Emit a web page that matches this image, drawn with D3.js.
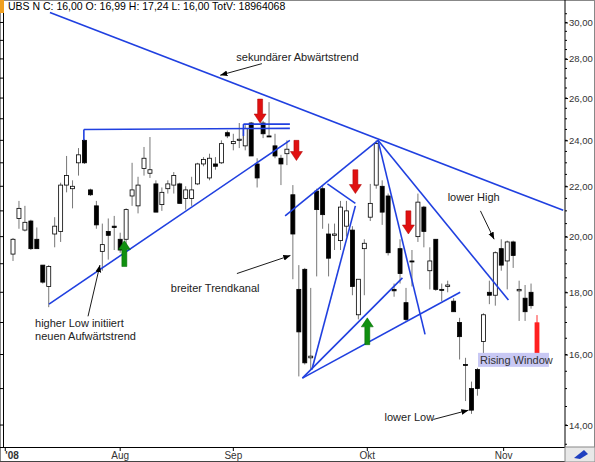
<!DOCTYPE html>
<html><head><meta charset="utf-8">
<script src="https://cdn.jsdelivr.net/npm/d3@7"></script>
<style>
body{margin:0;background:#fff;}
svg{font-family:"Liberation Sans",Arial,sans-serif;}
</style></head><body>
<svg id="chart" width="595" height="462"></svg>
<script>
// daily candles [open, high, low, close], July - early November 2008
const candles = [
 [19.35,19.95,19.1,19.9],[20.7,21.4,20.3,21.1],[20.25,21.2,20.2,20.55],[20.6,20.65,19.5,19.55],
 [19.9,20.35,19.55,19.55],[18.95,18.95,18.3,18.35],[18.2,18.95,17.5,18.9],[20.1,20.75,19.6,20.4],
 [20.2,22.15,19.8,22.05],[22.05,23.3,21.75,22.45],[21.9,22.25,21.1,22.0],[23.0,23.65,22.45,23.35],
 [24.0,24.05,22.95,23.0],[21.85,21.9,21.6,21.65],[21.2,21.4,20.3,20.45],[19.45,20.5,18.75,19.7],
 [20.2,20.7,19.15,20.05],[20.4,20.8,19.5,20.35],[19.9,20.15,19.4,19.5],[19.9,21.1,19.5,21.05],
 [21.6,23.0,21.2,21.85],[21.2,22.4,20.9,22.05],[22.75,23.7,22.45,23.2],[22.55,24.15,22.35,22.7],
 [22.1,22.25,20.95,20.95],[21.25,21.95,21.0,21.75],[21.9,22.25,21.7,22.1],[22.05,22.6,21.7,22.45],
 [22.1,22.15,21.3,21.3],[21.5,22.0,21.05,21.85],[21.5,22.4,21.2,21.85],[22.1,23.0,22.05,22.95],
 [22.95,23.25,22.85,23.15],[22.35,23.4,22.25,23.2],[22.95,23.25,22.7,22.85],[23.0,24.0,22.95,23.85],
 [24.35,24.45,24.1,24.2],[23.85,24.3,23.55,23.95],[24.0,24.8,23.65,24.05],[23.75,24.7,23.55,24.55],
 [24.8,24.85,23.3,23.3],[22.95,23.2,21.95,22.35],[24.8,24.9,24.1,24.3],[24.2,25.8,24.15,24.2],
 [23.75,24.3,23.2,23.3],[23.2,23.35,22.05,22.95],[23.4,24.0,22.9,23.6],[21.65,22.05,18.45,20.1],
 [18.1,18.95,15.35,16.7],[18.8,18.85,15.7,15.75],[15.9,18.15,15.55,15.95],[21.8,21.9,18.55,21.05],
 [21.9,22.05,20.3,20.85],[20.1,20.5,18.55,19.2],[20.05,20.5,19.5,20.1],[19.85,21.4,19.5,21.15],
 [20.4,21.4,20.0,21.0],[20.25,20.4,17.9,18.2],[17.25,18.45,17.1,18.45],[19.55,19.9,17.9,19.75],
 [20.75,22.1,20.6,21.3],[22.05,24.0,21.9,23.85],[22.0,22.25,20.45,20.95],[21.6,21.7,19.3,19.4],
 [18.1,18.3,17.85,18.05],[19.55,19.9,18.3,18.65],[17.65,18.15,17.05,17.1],[19.1,19.5,18.2,19.1],
 [20.0,21.7,19.8,21.35],[21.15,21.2,19.6,20.2],[18.75,19.6,18.1,19.1],[19.9,19.9,18.05,18.1],
 [18.1,18.3,17.7,18.1],[18.2,18.4,18.0,18.25],[17.7,17.8,17.35,17.35],[17.0,17.15,15.85,16.55],
 [15.7,15.9,14.65,15.7],[15.0,15.2,14.3,14.4],[15.55,15.6,14.8,15.0],[16.4,17.3,15.95,17.25],
 [18.0,18.4,17.6,17.9],[17.9,19.45,17.55,19.4],[19.55,19.9,18.75,18.95],[19.1,19.85,18.1,19.8],
 [19.8,19.85,18.85,19.3],[18.05,18.4,17.05,18.1],[17.8,18.25,17.05,17.35],[18.0,18.3,17.45,17.55],
 [16.99,17.24,16.0,16.0]
];
const monthLabels = ["'08", "Aug", "Sep", "Okt", "Nov"];
const monthIdx = [-1.3, 18.0, 37.0, 59.5, 82.4];
const priceTicks = [14, 16, 18, 20, 22, 24, 26, 28, 30];

// trend lines: [index1, price1, index2, price2]
const trendLines = [
 [6.2,30.57,92.4,21.02],
 [6.05,17.6,46.5,24.0],
 [11.9,24.5,46.5,24.55],
 [38.7,24.75,46.5,24.75],
 [45.7,20.8,61.3,24.0],
 [61.3,24.0,69.2,16.62],
 [61.3,24.0,83.2,17.74],
 [48.6,15.3,75.1,18.0],
 [48.6,15.3,65.4,18.5],
 [50.2,15.55,57.5,21.2],
 [52.8,22.1,57.5,21.3]
];
const vertLines = [[11.9,24.5,24.0],[38.7,24.75,24.2]];
const redArrows = [[41.5,25.95,24.8],[47.6,24.0,23.1],[57.5,22.7,21.7],[66.4,21.0,20.1]];
const greenArrows = [[18.7,18.9,19.85],[59.5,17.15,16.3]];
const notes = [
 {t:"sekundärer Abwärtstrend", i:37.5, p:27.9},
 {t:"higher Low initiiert", i:3.7, p:16.85},
 {t:"neuen Aufwärtstrend", i:3.7, p:16.45},
 {t:"breiter Trendkanal", i:26.5, p:18.0},
 {t:"lower High", i:73.0, p:21.4},
 {t:"lower Low", i:62.4, p:14.1}
];
const noteArrows = [[41.8,27.75,34.8,27.15],[12.6,17.2,14.6,18.95],[37.6,18.65,46.6,19.3],[78.5,21.0,80.8,19.9],[70.6,14.15,76.5,14.4]];

const svg = d3.select('#chart');
const x = d3.scaleLinear().domain([0, 88]).range([13, 537]);
const y = d3.scaleLog().domain([13.43, 30.6]).range([447, 12]);

// frame
svg.append('rect').attr('x',0.5).attr('y',0.5).attr('width',594).attr('height',461).attr('fill','#fff').attr('stroke','#888');
svg.append('rect').attr('x',0).attr('y',0).attr('width',4).attr('height',13).attr('fill','#f0a020');
svg.append('text').attr('x',8).attr('y',10).attr('font-size',10.5).text('UBS N C: 16,00 O: 16,99 H: 17,24 L: 16,00 TotV: 18964068');

// right axis
const yAxis = d3.axisRight(y).tickValues(priceTicks).tickSize(3).tickPadding(1)
  .tickFormat(d => d3.format('.2f')(d).replace('.', ','));
const ga = svg.append('g').attr('transform','translate(565,0)').call(yAxis);
ga.select('.domain').attr('d','M0,0V447');
ga.selectAll('text').attr('font-size',9.5).attr('fill','#333').attr('font-family','"Liberation Sans",Arial');
const minor = d3.range(13.5, 30.6, 0.5);
svg.append('g').selectAll('line').data(minor).join('line')
  .attr('x1',565).attr('x2',567).attr('y1',d=>y(d)).attr('y2',d=>y(d)).attr('stroke','#000');
// left edge ticks
svg.append('line').attr('x1',3.5).attr('x2',3.5).attr('y1',13).attr('y2',447).attr('stroke','#000');
svg.append('g').selectAll('line').data(d3.range(14, 31, 1)).join('line')
  .attr('x1',0).attr('x2',4).attr('y1',d=>y(d)).attr('y2',d=>y(d)).attr('stroke','#000');

// bottom axis
svg.append('line').attr('x1',0).attr('x2',595).attr('y1',447.5).attr('y2',447.5).attr('stroke','#000');
svg.append('line').attr('x1',0).attr('x2',565).attr('y1',462).attr('y2',462).attr('stroke','#000');
const bx = svg.append('g');
bx.selectAll('line').data(monthIdx).join('line')
  .attr('x1',d=>x(d)).attr('x2',d=>x(d)).attr('y1',447).attr('y2',451).attr('stroke','#000');
bx.selectAll('text').data(monthLabels).join('text')
  .attr('x',(d,i)=>x(monthIdx[i])).attr('y',459).attr('font-size',10).attr('fill','#333')
  .attr('text-anchor',(d,i)=>i===0?'start':'middle').attr('font-weight',(d,i)=>i===0?'bold':'normal').text(d=>d);
svg.append('rect').attr('x',565).attr('y',447).attr('width',30).attr('height',15).attr('fill','#e8e8e8').attr('stroke','#888');
svg.append('path').attr('d','M574,458 L584,450 L588,454 L580,459 Z').attr('fill','#2040c0');

// candles
const bw = 4;
const cg = svg.append('g');
candles.forEach((c, i) => {
  const last = i === candles.length - 1;
  const up = c[3] > c[0];
  cg.append('line').attr('x1',x(i)).attr('x2',x(i)).attr('y1',y(c[1])).attr('y2',y(c[2]))
    .attr('stroke', last ? '#ff3030' : '#777');
  const top = y(Math.max(c[0], c[3])), bot = y(Math.min(c[0], c[3]));
  cg.append('rect').attr('x',x(i)-bw/2).attr('y',top).attr('width',bw).attr('height',Math.max(1,bot-top))
    .attr('fill', last ? '#ff2020' : (up ? '#fff' : '#000')).attr('stroke', last ? '#ff2020' : '#000').attr('stroke-width',0.8);
});

// rising window box
svg.append('rect').attr('x',478).attr('y',y(16.05)).attr('width',71).attr('height',14).attr('fill','#c8c8f4');
svg.append('text').attr('x',480).attr('y',y(16.05)+11).attr('font-size',11).attr('fill','#333').text('Rising Window');

// trend lines
svg.append('g').selectAll('line').data(trendLines).join('line')
  .attr('x1',d=>x(d[0])).attr('y1',d=>y(d[1])).attr('x2',d=>x(d[2])).attr('y2',d=>y(d[3]))
  .attr('stroke','#2040e0').attr('stroke-width',1.6);
svg.append('g').selectAll('line').data(vertLines).join('line')
  .attr('x1',d=>x(d[0])).attr('x2',d=>x(d[0])).attr('y1',d=>y(d[1])).attr('y2',d=>y(d[2]))
  .attr('stroke','#2040e0').attr('stroke-width',1.6);

// fat arrows
function fatArrow(d, down) {
  const cx = x(d[0]), y1 = y(d[1]), y2 = y(d[2]);
  const dir = down ? 1 : -1;
  const tip = down ? Math.max(y1, y2) : Math.min(y1, y2);
  const base = down ? Math.min(y1, y2) : Math.max(y1, y2);
  const neck = tip - dir * 9;
  return `M${cx-2.5},${base}L${cx+2.5},${base}L${cx+2.5},${neck}L${cx+6},${neck}L${cx},${tip}L${cx-6},${neck}L${cx-2.5},${neck}Z`;
}
svg.append('g').selectAll('path').data(redArrows).join('path')
  .attr('d',d=>fatArrow(d,true)).attr('fill','#e01010').attr('stroke','#a00').attr('stroke-width',0.5);
svg.append('g').selectAll('path').data(greenArrows).join('path')
  .attr('d',d=>fatArrow(d,false)).attr('fill','#109010').attr('stroke','#060').attr('stroke-width',0.5);

// notes
svg.append('defs').append('marker').attr('id','ah').attr('viewBox','0 0 10 10').attr('refX',10).attr('refY',5)
  .attr('markerWidth',8).attr('markerHeight',8).attr('orient','auto')
  .append('path').attr('d','M0,1L10,5L0,9Z').attr('fill','#000');
svg.append('g').selectAll('line').data(noteArrows).join('line')
  .attr('x1',d=>x(d[0])).attr('y1',d=>y(d[1])).attr('x2',d=>x(d[2])).attr('y2',d=>y(d[3]))
  .attr('stroke','#000').attr('stroke-width',0.9).attr('marker-end','url(#ah)');
svg.append('g').selectAll('text').data(notes).join('text')
  .attr('x',d=>x(d.i)).attr('y',d=>y(d.p)).attr('font-size',11).attr('fill','#222').text(d=>d.t);
</script>
</body></html>
